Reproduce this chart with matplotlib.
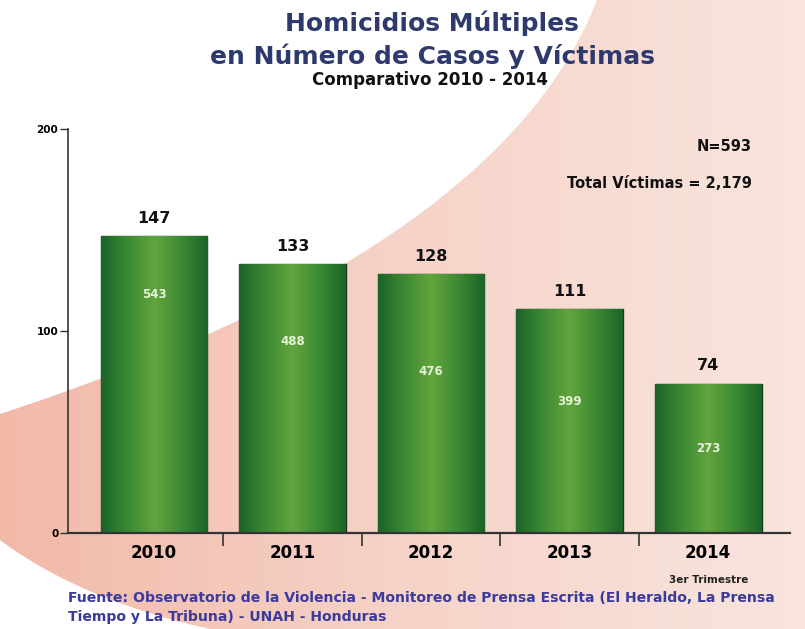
import numpy as np
import matplotlib
matplotlib.use("Agg")
from matplotlib import pyplot as plt
from matplotlib.patches import Polygon

plt.rcParams['font.family'] = ['DejaVu Sans']

years = ['2010', '2011', '2012', '2013', '2014']
casos = [147, 133, 128, 111, 74]
victimas = [543, 488, 476, 399, 273]

fig = plt.figure(figsize=(8.05, 6.29), dpi=100)

# pink swoosh behind the chart (pixel coords), smooth bezier edge
bg = fig.add_axes([0, 0, 1, 1])
bg.set_xlim(0, 805)
bg.set_ylim(629, 0)
bg.axis('off')
t = np.linspace(0, 1, 80)[:, None]
p0, p1, p2 = np.array([597, 0]), np.array([500, 250]), np.array([0, 414])
edge = (1 - t) ** 2 * p0 + 2 * t * (1 - t) * p1 + t ** 2 * p2
q0, q1, q2 = np.array([0, 540]), np.array([80, 600]), np.array([210, 629])
low = (1 - t) ** 2 * q0 + 2 * t * (1 - t) * q1 + t ** 2 * q2
pts = np.vstack([edge, low, [[805, 629], [805, 0]]])
poly = Polygon(pts, closed=True, facecolor='none', edgecolor='none')
bg.add_patch(poly)
grad = np.linspace(0, 1, 256).reshape(1, -1)
pink = matplotlib.colors.LinearSegmentedColormap.from_list('p', ['#f2b9a8', '#f6d3c8', '#f9e5de'])
img = bg.imshow(np.tile(grad, (10, 1)), extent=[0, 805, 629, 0], aspect='auto', cmap=pink, zorder=0)
img.set_clip_path(poly)

ax = fig.add_axes([68 / 805, 1 - 533 / 629, (790 - 68) / 805, (533 - 129) / 629])
ax.patch.set_alpha(0)
x = np.arange(len(years))
bars = ax.bar(x, casos, width=0.77, color='#2f7d2f', edgecolor='#173a17', linewidth=1.0, zorder=2)

gcm = matplotlib.colors.LinearSegmentedColormap.from_list(
    'g', ['#1b6428', '#3c8a34', '#62a53e', '#3c8a34', '#1b6428'])
for b in bars:
    im = ax.imshow(grad, extent=[b.get_x(), b.get_x() + b.get_width(), 0, b.get_height()],
                   aspect='auto', cmap=gcm, zorder=2.5)
    im.set_clip_path(b)

ax.set_xlim(-0.62, 4.59)
ax.set_ylim(0, 200)

inner_y = [118, 95, 80, 65, 42]
for xi, c, v, yy in zip(x, casos, victimas, inner_y):
    ax.text(xi, c + 5, str(c), ha='center', va='bottom', fontsize=11.5, fontweight='bold', color='#111111')
    ax.text(xi, yy, str(v), ha='center', va='center', fontsize=8.5, fontweight='bold', color='#e4f3d6', zorder=3)

for s in ['top', 'right']:
    ax.spines[s].set_visible(False)
ax.spines['left'].set_color('#333333')
ax.spines['bottom'].set_color('#333333')
ax.spines['bottom'].set_linewidth(1.6)
ax.spines['left'].set_linewidth(1.2)

ax.set_yticks([0, 100, 200])
ax.set_yticklabels(['0', '100', '200'], fontsize=7.5, fontweight='bold')
ax.tick_params(axis='y', length=6, width=1, color='#333333', pad=1)
ax.set_xticks(x)
ax.set_xticklabels(years, fontsize=12, fontweight='bold')
ax.tick_params(axis='x', length=0, pad=8)
ax.set_xticks([0.5, 1.5, 2.5, 3.5], minor=True)
ax.tick_params(axis='x', which='minor', length=9, width=1.2, color='#333333', direction='out')
ax.text(4, -0.105, '3er Trimestre', transform=ax.get_xaxis_transform(), ha='center', va='top',
        fontsize=7.5, fontweight='bold', color='#222222')

fig.text(0.537, 1 - 23 / 629, 'Homicidios Múltiples', ha='center', va='center',
         fontsize=18, fontweight='bold', color='#2e3a6e')
fig.text(0.537, 1 - 56 / 629, 'en Número de Casos y Víctimas', ha='center', va='center',
         fontsize=18, fontweight='bold', color='#2e3a6e')
fig.text(0.534, 1 - 80 / 629, 'Comparativo 2010 - 2014', ha='center', va='center',
         fontsize=12, fontweight='bold', color='#111111')

fig.text(752 / 805, 1 - 147 / 629, 'N=593', ha='right', va='center', fontsize=10.5,
         fontweight='bold', color='#111111')
fig.text(752 / 805, 1 - 183 / 629, 'Total Víctimas = 2,179', ha='right', va='center', fontsize=10.5,
         fontweight='bold', color='#111111')

fig.text(68 / 805, 1 - 598 / 629, 'Fuente: Observatorio de la Violencia - Monitoreo de Prensa Escrita (El Heraldo, La Prensa',
         ha='left', va='center', fontsize=10.1, fontweight='bold', color='#3b3b9c')
fig.text(68 / 805, 1 - 617 / 629, 'Tiempo y La Tribuna) - UNAH - Honduras',
         ha='left', va='center', fontsize=10.1, fontweight='bold', color='#3b3b9c')

fig.savefig('out.png', dpi=100)
